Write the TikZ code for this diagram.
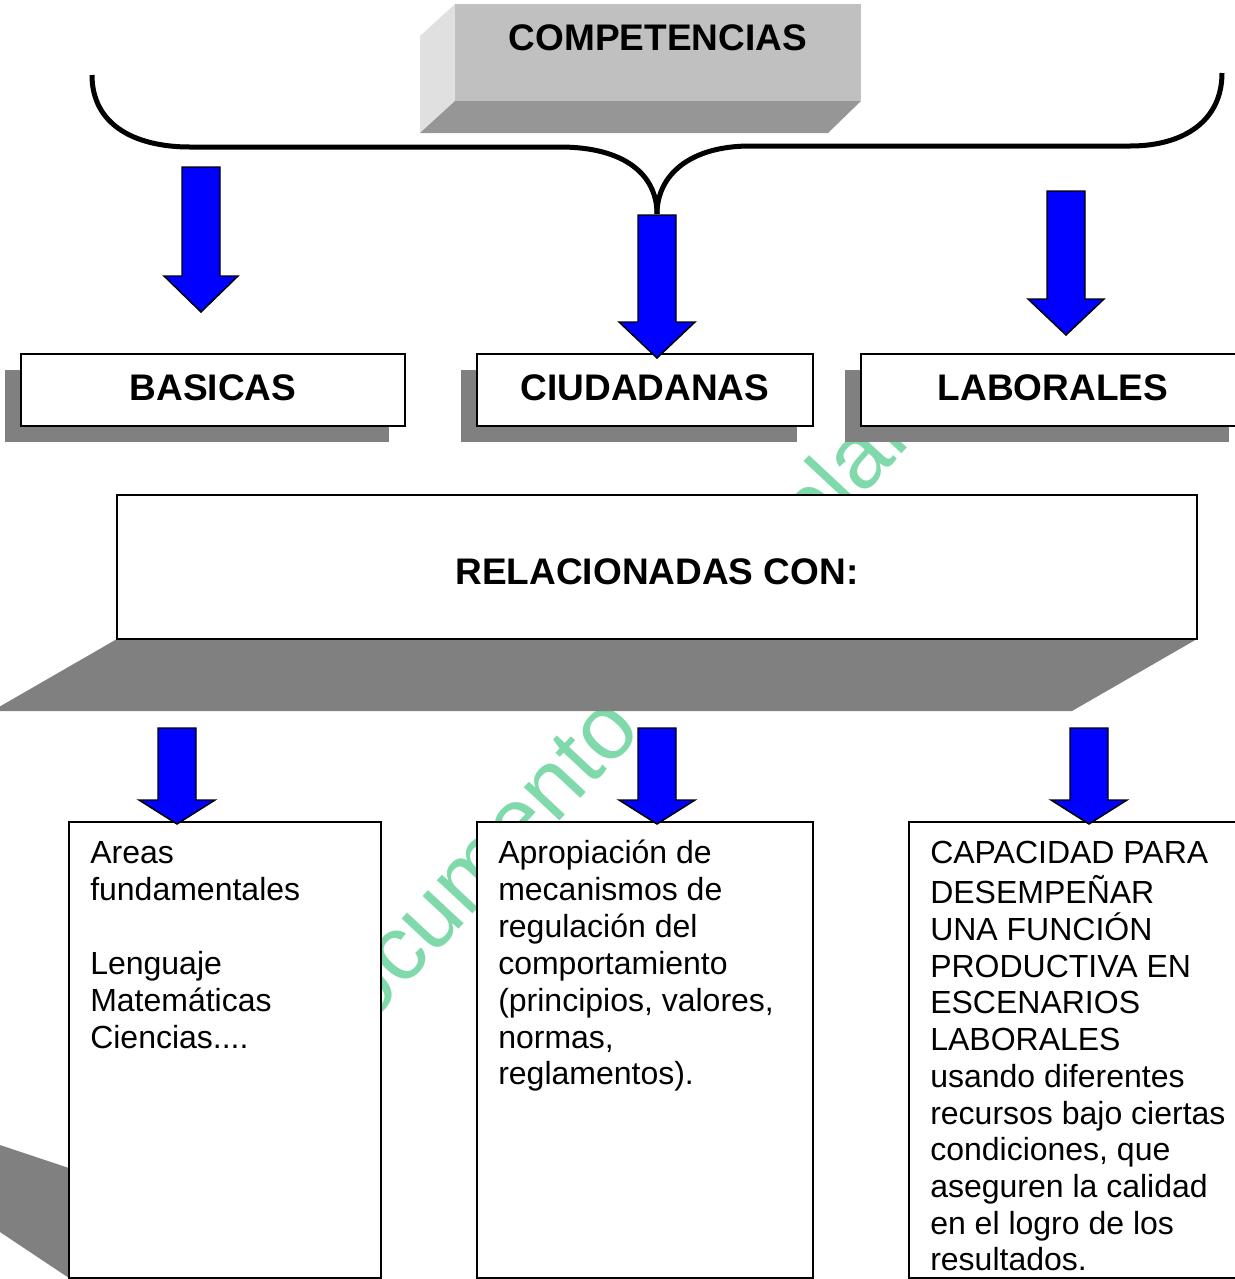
\documentclass[tikz,border=0pt]{standalone}
\usepackage{fontspec}
\setmainfont{Liberation Sans}
\usetikzlibrary{fit,calc}
\definecolor{wm}{RGB}{128,217,170}
\definecolor{shadowgray}{RGB}{128,128,128}
\definecolor{frontgray}{RGB}{192,192,192}
\definecolor{sidegray}{RGB}{224,224,224}
\definecolor{bottomgray}{RGB}{150,150,150}
\definecolor{arrowblue}{RGB}{0,0,255}
\tikzset{
  boxframe/.style={draw=black, line width=1.5pt, fill=white, inner sep=0pt},
  headtext/.style={font=\fontsize{27.75}{32}\selectfont\bfseries, inner sep=0pt},
  bodytext/.style={font=\fontsize{24}{27.7}\selectfont, align=left, inner sep=0pt, anchor=north west},
  blockarrow/.style={fill=arrowblue, draw=black, line width=1.1pt, line join=miter},
  shade3d/.style={fill=shadowgray},
  bracestroke/.style={draw=black, line width=3.75pt},
  watermark/.style={text=wm, font=\fontsize{69}{80}\selectfont, inner sep=0pt}
}
\newcommand{\blockdown}[5]{% cx, top, headstart, tip, halfhead
  \draw[blockarrow] (#1-19,#2) -- (#1+19,#2) -- (#1+19,#3) -- (#1+#5,#3) -- (#1,#4) -- (#1-#5,#3) -- (#1-19,#3) -- cycle;}
\begin{document}
\begin{tikzpicture}[x=0.75pt,y=-0.75pt]
\useasboundingbox (0,0) rectangle (1235,1279);
\clip (0,0) rectangle (1235,1279);

% watermark
\node[watermark, rotate=47, anchor=base west] (wmark) at (322,1076) {Documento de la plan};

% COMPETENCIAS 3D box
\fill[sidegray] (420,36) -- (455,4) -- (455,101) -- (420,133) -- cycle;
\fill[bottomgray] (455,101) -- (861,101) -- (828,133) -- (420,133) -- cycle;
\node[fit={(455,4)(861,101)}, inner sep=0pt, fill=frontgray] (compbox) {};
\node[headtext] (comptext) at (658,38) {COMPETENCIAS};

% brace
\draw[bracestroke] (92,75) .. controls (92,125) and (135,147) .. (190,147) -- (560,147)
  .. controls (625,147) and (657,175) .. (657,214);
\draw[bracestroke] (657,214) .. controls (657,175) and (690,146) .. (750,146) -- (1130,146)
  .. controls (1185,146) and (1222,120) .. (1222,73);

% first row shadows and boxes
\fill[shade3d] (5,370) rectangle (389,442);
\fill[shade3d] (461,370) rectangle (797,442);
\fill[shade3d] (845,370) rectangle (1229,442);
\node[boxframe, fit={(21,354)(405,426)}] (basicas) {};
\node[boxframe, fit={(477,354)(813,426)}] (ciudadanas) {};
\node[boxframe, fit={(861,354)(1245,426)}] (laborales) {};
\node[headtext] (tbasicas) at (213,388) {BASICAS};
\node[headtext] (tciudadanas) at (645,388) {CIUDADANAS};
\node[headtext] (tlaborales) at (1053,388) {LABORALES};

% RELACIONADAS box
\fill[shade3d] (117,639) -- (1197,639) -- (1072,711) -- (-8,711) -- cycle;
\node[boxframe, fit={(117,495)(1197,639)}] (relbox) {};
\node[headtext] (reltext) at (657,572) {RELACIONADAS CON:};

% bottom boxes
\fill[shade3d] (0,1145) -- (69,1168) -- (69,1278) -- (0,1232) -- cycle;
\node[boxframe, fit={(69,822)(381,1278)}] (areasbox) {};
\node[boxframe, fit={(477,822)(813,1278)}] (apropbox) {};
\node[boxframe, fit={(909,822)(1245,1278)}] (capbox) {};
\node[bodytext] (areastext) at (90,837.2) {\strut Areas\\ fundamentales\\ \strut\\ Lenguaje\\ Matemáticas\\ Ciencias....};
\node[bodytext] (aproptext) at (498,837.2) {\strut Apropiación de\\ mecanismos de\\ regulación del\\ comportamiento\\ (principios, valores,\\ normas,\\ reglamentos).};
\node[bodytext, font=\fontsize{24}{27.55}\selectfont] (captext) at (930,837.2) {\strut CAPACIDAD PARA\\ DESEMPEÑAR\\ UNA FUNCIÓN\\ PRODUCTIVA EN\\ ESCENARIOS\\ LABORALES\\ usando diferentes\\ recursos bajo ciertas\\ condiciones, que\\ aseguren la calidad\\ en el logro de los\\ resultados.};

% block arrows
\blockdown{201}{167}{276}{312}{37}
\blockdown{657}{215}{322}{358}{38}
\blockdown{1066}{191}{299}{335}{38}
\blockdown{177}{728}{800}{824}{38}
\blockdown{657}{728}{800}{824}{38}
\blockdown{1089}{728}{800}{824}{38}
\end{tikzpicture}
\end{document}
